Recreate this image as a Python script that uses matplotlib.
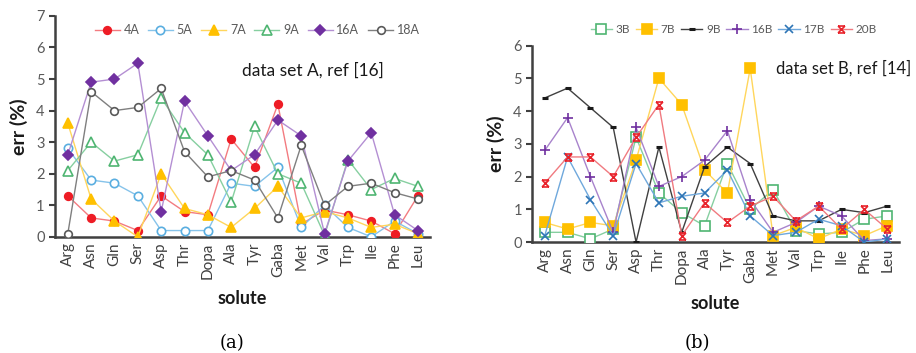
import numpy as np
import matplotlib
matplotlib.use("Agg")
import matplotlib.pyplot as plt
from matplotlib.path import Path

plt.rcParams['font.family'] = ['Lato', 'DejaVu Sans']

solutes = ["Arg", "Asn", "Gln", "Ser", "Asp", "Thr", "Dopa", "Ala",
           "Tyr", "Gaba", "Met", "Val", "Trp", "Ile", "Phe", "Leu"]

# data set A
err_4A = [1.3, 0.6, 0.5, 0.2, 1.3, 0.8, 0.7, 3.1, 2.2, 4.2, 0.4, 0.85, 0.7, 0.5, 0.1, 1.3]
err_5A = [2.8, 1.8, 1.7, 1.3, 0.2, 0.2, 0.2, 1.7, 1.6, 2.2, 0.3, 1.0, 0.3, 0.0, 0.5, 0.1]
err_7A = [3.6, 1.2, 0.5, 0.0, 2.0, 0.9, 0.7, 0.3, 0.9, 1.6, 0.6, 0.8, 0.6, 0.3, 0.4, 0.1]
err_9A = [2.1, 3.0, 2.4, 2.6, 4.4, 3.3, 2.6, 1.1, 3.5, 2.0, 1.7, 0.05, 2.45, 1.5, 1.85, 1.6]
err_16A = [2.6, 4.9, 5.0, 5.5, 0.8, 4.3, 3.2, 2.1, 2.6, 3.7, 3.2, 0.1, 2.4, 3.3, 0.7, 0.2]
err_18A = [0.1, 4.6, 4.0, 4.1, 4.7, 2.7, 1.9, 2.1, 1.8, 0.6, 2.9, 1.0, 1.6, 1.7, 1.4, 1.2]

# data set B
err_3B = [0.3, 0.3, 0.1, 0.4, 3.2, 1.5, 0.9, 0.5, 2.4, 1.0, 1.6, 0.35, 0.25, 0.3, 0.7, 0.8]
err_7B = [0.6, 0.4, 0.6, 0.5, 2.5, 5.0, 4.2, 2.2, 1.5, 5.3, 0.2, 0.45, 0.1, 0.4, 0.2, 0.5]
err_9B = [4.4, 4.7, 4.1, 3.5, 0.0, 2.9, 0.3, 2.3, 2.9, 2.4, 0.8, 0.65, 0.65, 1.0, 0.9, 1.1]
err_16B = [2.8, 3.8, 2.0, 0.3, 3.5, 1.7, 2.0, 2.5, 3.4, 1.3, 0.3, 0.6, 1.1, 0.8, 0.05, 0.1]
err_17B = [0.2, 2.6, 1.3, 0.2, 2.4, 1.2, 1.4, 1.5, 2.2, 0.8, 0.2, 0.3, 0.7, 0.5, 0.0, 0.1]
err_20B = [1.8, 2.6, 2.6, 2.0, 3.2, 4.2, 0.2, 1.2, 0.6, 1.1, 1.4, 0.65, 1.1, 0.4, 1.0, 0.4]

# hourglass-like star marker (x with top and bottom bars)
star = Path([(-1, -1), (1, 1), (-1, 1), (1, -1), (-1, 1), (1, 1), (-1, -1), (1, -1)],
            [Path.MOVETO, Path.LINETO] * 4)

x = np.arange(len(solutes))
txt = "#404040"

fig = plt.figure(figsize=(9.16, 3.53), dpi=100)
axA = fig.add_axes([0.060, 0.329, 0.409, 0.626])
axB = fig.add_axes([0.581, 0.314, 0.400, 0.557])

seriesA = [
    ("4A", err_4A, "o", "#ee1c25", "#f37b80", True, 5.5),
    ("5A", err_5A, "o", "#5aaee0", "#86c3ea", False, 6),
    ("7A", err_7A, "^", "#ffc000", "#ffd65c", True, 7),
    ("9A", err_9A, "^", "#4fb572", "#86cfa0", False, 7),
    ("16A", err_16A, "D", "#7030a0", "#b48fd3", True, 5.5),
    ("18A", err_18A, "o", "#595959", "#7f7f7f", False, 5.5),
]
seriesB = [
    ("3B", err_3B, "s", "#4fb572", "#86cfa0", False, 7),
    ("7B", err_7B, "s", "#ffc000", "#ffd65c", True, 6.5),
    ("9B", err_9B, "_", "#1a1a1a", "#404040", True, 4),
    ("16B", err_16B, "+", "#7030a0", "#a883cc", True, 7),
    ("17B", err_17B, "x", "#2e75b6", "#6fa8dc", True, 6),
    ("20B", err_20B, star, "#e8222a", "#f07a80", True, 5),
]


def draw(ax, series, ymax):
    for name, vals, mk, mc, lc, filled, ms in series:
        ax.plot(x, vals, color=lc, lw=1.0, marker=mk, markersize=ms,
                markeredgecolor=mc, markerfacecolor=mc if filled else "white",
                markeredgewidth=2.2 if mk == "_" else 1.2, label=name, zorder=3)
    ax.set_xlim(-0.55, 15.5)
    ax.set_ylim(0, ymax)
    ax.set_yticks(range(ymax + 1))
    ax.set_xticks(x)
    ax.set_xticklabels(solutes, rotation=90, fontsize=11, color=txt)
    ax.tick_params(axis="x", length=0, pad=4)
    ax.tick_params(axis="y", length=4, width=1.5, colors="#404040", labelsize=10.5, labelcolor="#595959")
    for s in ["top", "right"]:
        ax.spines[s].set_visible(False)
    for s in ["left", "bottom"]:
        ax.spines[s].set_linewidth(1.8)
        ax.spines[s].set_color("#404040")
    ax.set_ylabel("err (%)", fontsize=14, fontweight="bold", color="#1a1a1a", labelpad=6)
    ax.set_xlabel("solute", fontsize=13, fontweight="bold", color="#1a1a1a", labelpad=8)


draw(axA, seriesA, 7)
draw(axB, seriesB, 6)

axA.legend(ncol=6, loc="upper center", bbox_to_anchor=(0.54, 0.985), frameon=False,
           fontsize=9, labelcolor="#595959", handlelength=2.0, columnspacing=0.7,
           handletextpad=0.3, borderaxespad=0)
axB.legend(ncol=6, loc="upper center", bbox_to_anchor=(0.55, 1.135), frameon=False,
           fontsize=8.5, labelcolor="#595959", handlelength=1.8, columnspacing=0.5,
           handletextpad=0.3, borderaxespad=0)

axA.text(0.50, 0.755, "data set A, ref [16]", transform=axA.transAxes, fontsize=12.5,
         color="#1a1a1a", ha="left", va="center")
axB.text(0.665, 0.885, "data set B, ref [14]", transform=axB.transAxes, fontsize=12,
         color="#1a1a1a", ha="left", va="center")

fig.text(0.253, 0.028, "(a)", fontsize=13, ha="center", va="center", family="DejaVu Serif")
fig.text(0.761, 0.028, "(b)", fontsize=13, ha="center", va="center", family="DejaVu Serif")

fig.savefig("out.png", dpi=100)
